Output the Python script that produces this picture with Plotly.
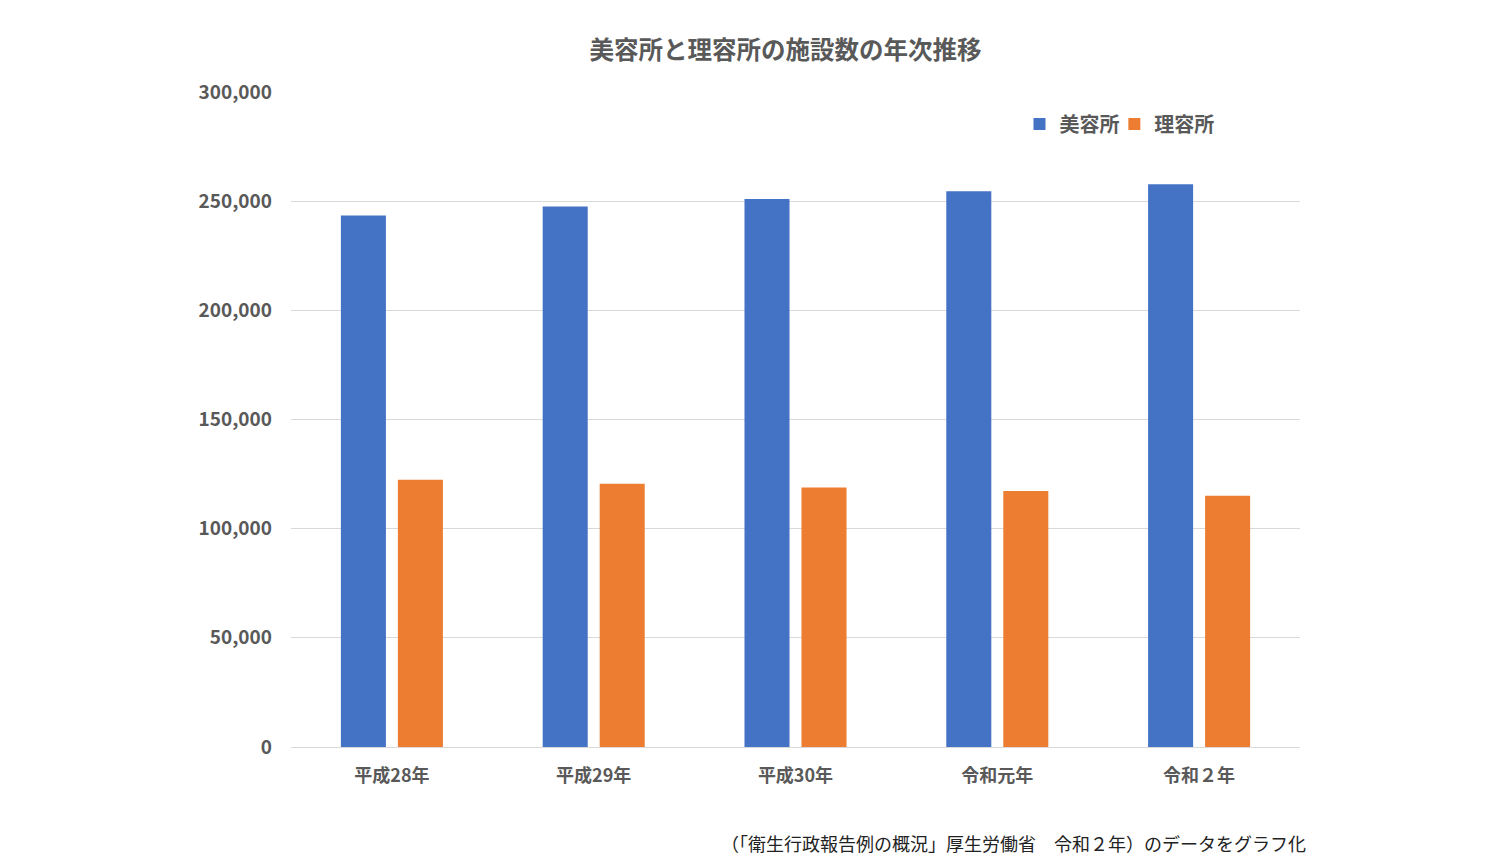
import plotly.graph_objects as go

categories = ["平成28年", "平成29年", "平成30年", "令和元年", "令和２年"]
biyousho = [243400, 247600, 251000, 254500, 257800]
riyousho = [122400, 120600, 118800, 117300, 115100]
series_names = ["美容所", "理容所"]
title_text = "美容所と理容所の施設数の年次推移"
source_text = "（「衛生行政報告例の概況」厚生労働省　令和２年）のデータをグラフ化"
y_ticks = [0, 50000, 100000, 150000, 200000, 250000, 300000]

FONT = "Noto Sans CJK JP"
GRAY = "#595959"

fig = go.Figure()
fig.add_trace(go.Bar(x=categories, y=biyousho, name="<b>" + series_names[0] + "</b>",
                     marker=dict(color="#4472C4", line=dict(width=0)), legend="legend",
                     showlegend=True))
fig.add_trace(go.Bar(x=categories, y=riyousho, name="<b>" + series_names[1] + "</b>",
                     marker=dict(color="#ED7D31", line=dict(width=0)), legend="legend2",
                     showlegend=True))

legend_style = dict(orientation="h", xanchor="left", y=0.951, yanchor="middle",
                    font=dict(size=20, color=GRAY, family=FONT), bgcolor="rgba(0,0,0,0)",
                    itemwidth=30)

fig.update_layout(
    width=1500, height=866,
    showlegend=True,
    margin=dict(l=283, r=208, t=84, b=127),
    paper_bgcolor="white", plot_bgcolor="white",
    barmode="group", bargap=0.435, bargroupgap=0.21,
    font=dict(family=FONT, color=GRAY),
    title=dict(text="<b>" + title_text + "</b>", x=0.49, xref="paper", xanchor="center",
               y=1 - 42 / 866, yref="container", yanchor="middle",
               font=dict(size=24.5, color=GRAY, family=FONT)),
    legend=dict(x=0.722, **legend_style),
    legend2=dict(x=0.816, **legend_style),
    xaxis=dict(showgrid=False, showline=True, linecolor="#d9d9d9", linewidth=1,
               ticks="", tickfont=dict(size=18, color=GRAY, family=FONT),
               ticklabelstandoff=12, tickprefix="<b>", ticksuffix="</b>"),
    yaxis=dict(range=[0, 300000], tickvals=y_ticks,
               ticktext=["<b>{:,}</b>".format(v) for v in y_ticks],
               showgrid=True, gridcolor="#d9d9d9", gridwidth=1,
               zeroline=False, showline=False, ticks="",
               tickfont=dict(size=19, color=GRAY, family=FONT),
               ticklabelstandoff=18),
    annotations=[dict(text=source_text, xref="paper", yref="paper",
                      x=1.008, y=-0.147, xanchor="right", yanchor="middle",
                      showarrow=False, font=dict(size=18, color="#222222", family=FONT))],
)

fig.write_html("out.html")
